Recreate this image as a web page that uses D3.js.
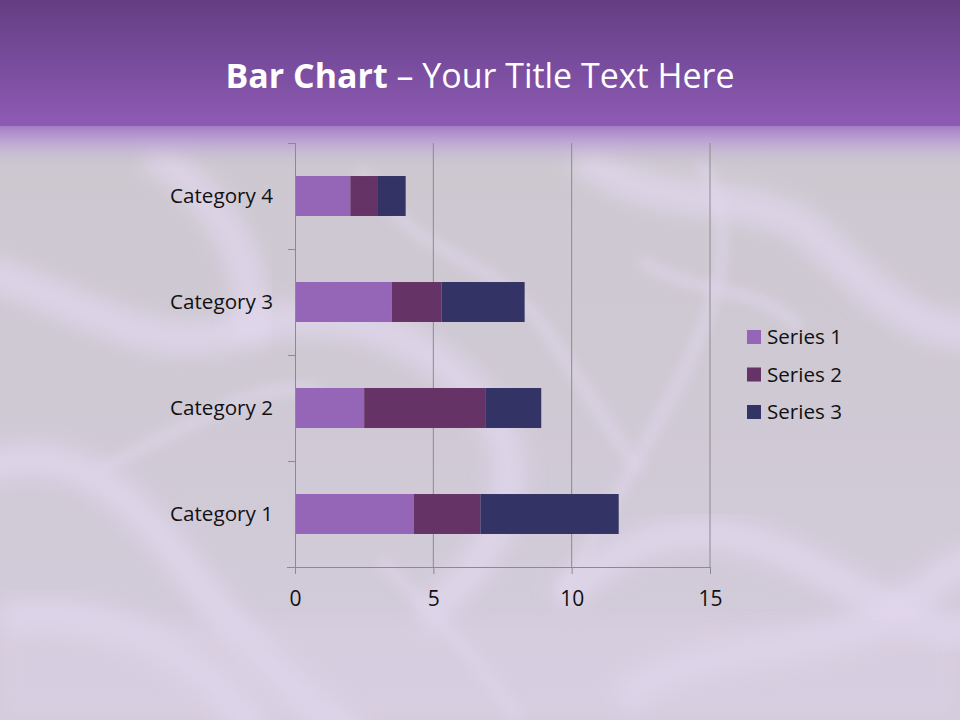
<!DOCTYPE html>
<html><head><meta charset="utf-8">
<script src="https://cdn.jsdelivr.net/npm/d3@7/dist/d3.min.js"></script>
<style>html,body{margin:0;padding:0;background:#ccc8cd;}svg{display:block;}</style>
</head><body>
<script>
const categories = ["Category 1", "Category 2", "Category 3", "Category 4"];
const seriesNames = ["Series 1", "Series 2", "Series 3"];
const series1 = [4.3, 2.5, 3.5, 2];
const series2 = [2.4, 4.4, 1.8, 1];
const series3 = [5, 2, 3, 1];
const xTicks = [0, 5, 10, 15];
const colors = ["#9565b8", "#663366", "#333366"];

const W = 960, H = 720;
const FONT = "'Open Sans', Lato, sans-serif";
const svg = d3.select("body").append("svg").attr("width", W).attr("height", H);
const defs = svg.append("defs");

// background
const bg = defs.append("linearGradient").attr("id","bg").attr("x1",0).attr("y1",0).attr("x2",0).attr("y2",1);
bg.append("stop").attr("offset","0%").attr("stop-color","#cbc7cd");
bg.append("stop").attr("offset","100%").attr("stop-color","#d3cbdb");
svg.append("rect").attr("width",W).attr("height",H).attr("fill","url(#bg)");

const blur = defs.append("filter").attr("id","blur").attr("x","-20%").attr("y","-20%").attr("width","140%").attr("height","140%");
blur.append("feGaussianBlur").attr("stdDeviation",10);
const blur2 = defs.append("filter").attr("id","blur2").attr("x","-20%").attr("y","-20%").attr("width","140%").attr("height","140%");
blur2.append("feGaussianBlur").attr("stdDeviation",6);

const silk = svg.append("g");
const wide = [
  "M-20,270 C80,300 150,360 240,330 C330,300 420,330 480,400 C540,470 500,560 420,620",
  "M-20,470 C60,440 120,480 180,560 C240,640 300,700 360,740",
  "M0,620 C80,600 200,640 260,740",
  "M580,150 C640,220 760,180 820,240 C880,300 930,340 980,330",
  "M560,600 C640,520 720,520 800,560 C880,600 930,640 980,630",
  "M620,700 C700,640 800,660 880,620 C920,600 950,560 980,560",
  "M150,150 C220,200 260,260 250,340"
];
silk.selectAll("path.w").data(wide).join("path").attr("d",d=>d)
  .attr("fill","none").attr("stroke","#e2d8ef").attr("stroke-width",34).attr("opacity",0.7).attr("filter","url(#blur)");
const thin = [
  "M360,170 C420,260 470,250 520,300 C560,340 600,420 640,470",
  "M700,160 C740,230 720,300 680,380 C640,460 600,520 560,600",
  "M380,560 C430,610 470,650 520,720",
  "M100,470 C200,420 260,380 320,390",
  "M640,260 C700,300 760,280 800,330"
];
silk.selectAll("path.t").data(thin).join("path").attr("d",d=>d)
  .attr("fill","none").attr("stroke","#e2d8ef").attr("stroke-width",10).attr("opacity",0.6).attr("filter","url(#blur2)");
svg.append("rect").attr("y",620).attr("width",W).attr("height",100).attr("fill","#ddd3e8").attr("opacity",0.45).attr("filter","url(#blur)");

// header
const hg = defs.append("linearGradient").attr("id","hg").attr("x1",0).attr("y1",0).attr("x2",0).attr("y2",1);
hg.append("stop").attr("offset","0%").attr("stop-color","#643e81");
hg.append("stop").attr("offset","50%").attr("stop-color","#784c9d");
hg.append("stop").attr("offset","100%").attr("stop-color","#8e5bb4");
svg.append("rect").attr("width",W).attr("height",126).attr("fill","url(#hg)");
const fg = defs.append("linearGradient").attr("id","fg").attr("x1",0).attr("y1",0).attr("x2",0).attr("y2",1);
fg.append("stop").attr("offset","0%").attr("stop-color","#a47cc6").attr("stop-opacity",1);
fg.append("stop").attr("offset","40%").attr("stop-color","#bda3d4").attr("stop-opacity",0.8);
fg.append("stop").attr("offset","100%").attr("stop-color","#cbc7cd").attr("stop-opacity",0);
svg.append("rect").attr("y",126).attr("width",W).attr("height",44).attr("fill","url(#fg)");

// title
const title = svg.append("text").attr("x",480).attr("y",88).attr("text-anchor","middle")
  .attr("fill","#ffffff").attr("font-family",FONT).attr("font-size",34).attr("textLength",509).attr("lengthAdjust","spacingAndGlyphs");
title.append("tspan").attr("font-weight","bold").text("Bar Chart");
title.append("tspan").text(" \u2013 Your Title Text Here");

// chart
const x0 = 295, x1 = 710, yTop = 143, yBot = 567;
const x = d3.scaleLinear().domain([0,15]).range([x0,x1]);
const y = d3.scaleBand().domain(categories.slice().reverse()).range([yTop,yBot]).paddingInner(0.623).paddingOuter(0.3115);
const yTicks = d3.scaleBand().domain(categories.slice().reverse()).range([yTop,yBot]);

const axisColor = "#8c8a8e";
const g = svg.append("g");
g.selectAll("line.grid").data(xTicks.slice(1)).join("line")
  .attr("x1",d=>x(d)).attr("x2",d=>x(d)).attr("y1",yTop).attr("y2",yBot)
  .attr("stroke",axisColor).attr("stroke-width",1);

const data = categories.map((c,i)=>({cat:c, "Series 1":series1[i], "Series 2":series2[i], "Series 3":series3[i]}));
const stack = d3.stack().keys(seriesNames)(data);
stack.forEach((layer,li)=>{
  g.selectAll("rect.s"+li).data(layer).join("rect")
    .attr("x",d=>x(d[0])).attr("width",d=>x(d[1])-x(d[0]))
    .attr("y",d=>y(d.data.cat)).attr("height",y.bandwidth())
    .attr("fill",colors[li]);
});

const xAxis = d3.axisBottom(x).tickValues(xTicks).tickSize(7).tickPadding(17);
const xa = svg.append("g").attr("transform",`translate(0,${yBot})`).call(xAxis);
xa.select(".domain").attr("d",`M${x0-8},0.5H${x1}`).attr("stroke",axisColor);
xa.selectAll(".tick line").attr("stroke",axisColor);
xa.selectAll("text").attr("fill","#111").attr("font-size",21).attr("font-family",FONT);

const ya = svg.append("g").attr("transform",`translate(${x0},0)`);
ya.append("line").attr("x1",0.5).attr("x2",0.5).attr("y1",yTop).attr("y2",yBot).attr("stroke",axisColor);
const tickYs = categories.map(c=>yTicks(c)).concat([yTop]);
ya.selectAll("line.tk").data(tickYs).join("line").attr("x1",-7).attr("x2",0).attr("y1",d=>d+0.5).attr("y2",d=>d+0.5).attr("stroke",axisColor);
ya.selectAll("text").data(categories).join("text")
  .attr("x",-22).attr("y",d=>y(d)+y.bandwidth()/2).attr("dy","0.35em")
  .attr("text-anchor","end").attr("fill","#111").attr("font-size",20).attr("font-family",FONT)
  .attr("textLength",103).attr("lengthAdjust","spacingAndGlyphs")
  .text(d=>d);

const lg = svg.append("g").attr("transform","translate(747,337)");
seriesNames.forEach((s,i)=>{
  const r = lg.append("g").attr("transform",`translate(0,${i*37.5})`);
  r.append("rect").attr("x",0).attr("y",-7).attr("width",14).attr("height",14).attr("fill",colors[i]);
  r.append("text").attr("x",20).attr("y",0).attr("dy","0.35em").attr("fill","#111")
    .attr("font-size",20).attr("font-family",FONT).attr("textLength",75).attr("lengthAdjust","spacingAndGlyphs").text(s);
});
</script>
</body></html>
